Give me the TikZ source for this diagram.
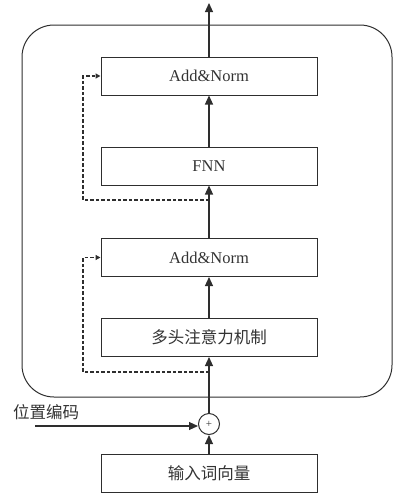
\documentclass[tikz,border=0pt]{standalone}
\usepackage{fontspec}
\setmainfont{Liberation Serif}
\newfontfamily\cjk{Noto Sans CJK SC}
\usetikzlibrary{arrows.meta}
\definecolor{ln}{HTML}{2E2E2E}
\definecolor{tx}{HTML}{333333}
\tikzset{
  blk/.style={draw=ln, line width=1pt, minimum width=216pt, minimum height=38pt, inner sep=0pt, text=tx, font=\fontsize{16.5}{20}\selectfont},
  arr/.style={draw=ln, line width=1.1pt, -{Triangle[length=9pt,width=8pt]}},
  res/.style={draw=ln, line width=1.4pt, dash pattern=on 3.5pt off 2pt, -{Triangle[length=5pt,width=5pt]}},
}
\begin{document}
\begin{tikzpicture}[x=1pt,y=-1pt]
\useasboundingbox (0,0) rectangle (395,496);
\draw[ln, line width=1pt, rounded corners=32pt] (22,25) rectangle (392,397);
\node[blk] (an2) at (209,76) {Add\&Norm};
\node[blk] (fnn) at (209,166) {FNN};
\node[blk] (an1) at (209,257.5) {Add\&Norm};
\node[blk] (att) at (209,337.5) {\cjk 多头注意力机制};
\node[blk] (inp) at (209,473) {\cjk 输入词向量};
\node[draw=ln, line width=1pt, circle, minimum size=21pt, inner sep=0pt, text=tx, font=\fontsize{11}{11}\selectfont] (plus) at (209,424) {+};
\node[text=tx, font=\fontsize{16.5}{20}\cjk] (pos) at (46,412) {位置编码};
\coordinate (out) at (209,3);
\coordinate (pstart) at (35,426);
\coordinate (r1) at (209,372);
\coordinate (r2) at (209,200);
\draw[arr] (pstart) -- (plus.west |- pstart);
\draw[arr] (inp.north) -- (plus.south);
\draw[arr] (plus.north) -- (att.south);
\draw[arr] (att.north) -- (an1.south);
\draw[arr] (an1.north) -- (fnn.south);
\draw[arr] (fnn.north) -- (an2.south);
\draw[arr] (an2.north) -- (out);
\draw[res] (r1) -- (83,372) -- (83,257.5) -- (an1.west);
\draw[res] (r2) -- (83,200) -- (83,76) -- (an2.west);
\end{tikzpicture}
\end{document}
